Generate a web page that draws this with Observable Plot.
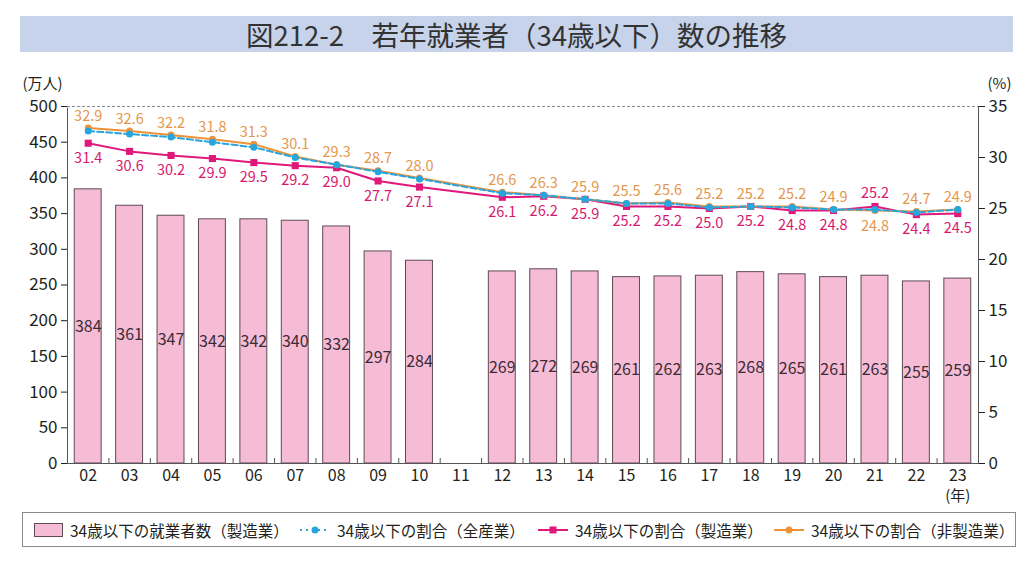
<!DOCTYPE html>
<html>
<head>
<meta charset="utf-8">
<script src="https://cdn.jsdelivr.net/npm/d3@7"></script>
<script src="https://cdn.jsdelivr.net/npm/@observablehq/plot@0.6"></script>
<style>
  html, body { margin: 0; padding: 0; background: #fff; }
  body { width: 1024px; height: 564px; position: relative; overflow: hidden;
         font-family: "Noto Sans CJK JP", "Noto Sans", sans-serif; color: #231f20; }
  #title { position: absolute; left: 20px; top: 16px; width: 993px; height: 36px;
           background: #c7d3ea; text-align: center; font-size: 27.5px; line-height: 36px; color: #333; }
  #chart { position: absolute; left: 0; top: 60px; }
  #legend { position: absolute; left: 22px; top: 512px; width: 994px; height: 35px;
            border: 1px solid #8a8a8a; box-sizing: border-box; font-size: 15.5px; color: #231f20; }
  .item { position: absolute; top: 0; height: 33px; display: flex; align-items: center; white-space: nowrap; }
  .item svg { margin-right: 6px; }
</style>
</head>
<body>
<div id="title">図212-2　若年就業者（34歳以下）数の推移</div>
<div id="chart"></div>
<div id="legend"></div>
<script>
// ---- data ----
const years = ["02","03","04","05","06","07","08","09","10","11","12","13","14","15","16","17","18","19","20","21","22","23"];
const workers = [384,361,347,342,342,340,332,297,284,null,269,272,269,261,262,263,268,265,261,263,255,259];
const shareAll = [32.6,32.3,32.0,31.5,31.0,30.0,29.3,28.6,27.9,null,26.5,26.3,25.9,25.5,25.5,25.1,25.2,25.1,24.9,24.9,24.6,24.9];
const shareMfg = [31.4,30.6,30.2,29.9,29.5,29.2,29.0,27.7,27.1,null,26.1,26.2,25.9,25.2,25.2,25.0,25.2,24.8,24.8,25.2,24.4,24.5];
const shareNonMfg = [32.9,32.6,32.2,31.8,31.3,30.1,29.3,28.7,28.0,null,26.6,26.3,25.9,25.5,25.6,25.2,25.2,25.2,24.9,24.8,24.7,24.9];
const leftTicks = [0,50,100,150,200,250,300,350,400,450,500];
const rightTicks = [0,5,10,15,20,25,30,35];
const legendLabels = ["34歳以下の就業者数（製造業）","34歳以下の割合（全産業）","34歳以下の割合（製造業）","34歳以下の割合（非製造業）"];

const C = { bar: "#f6bcd5", barStroke: "#5f4a57", all: "#27a6de", mfg: "#e0187a", non: "#ef9239",
            nonText: "#e6964c", mfgText: "#d7186f", ink: "#231f20" };

const rows = years.map((y, i) => ({year: y, workers: workers[i], all: shareAll[i], mfg: shareMfg[i], non: shareNonMfg[i]}));
const barRows = rows.filter(d => d.workers != null);
const lineRows = rows.filter(d => d.mfg != null);

const K = 500 / 35; // percent -> left axis units
const W = 1024, H = 445, ML = 67, MR = 46, MT = 46, MB = 42;
const step = (W - ML - MR) / years.length;

const chart = Plot.plot({
  width: W, height: H,
  marginLeft: ML, marginRight: MR, marginTop: MT, marginBottom: MB,
  style: { fontFamily: "'Noto Sans CJK JP', sans-serif", fontSize: "16px", color: C.ink, background: "white" },
  x: { type: "band", domain: years, paddingInner: 0.35, paddingOuter: 0.175, round: false, label: null },
  y: { domain: [0, 500], label: null },
  marks: [
    Plot.barY(barRows, { x: "year", y: "workers", fill: C.bar, stroke: C.barStroke, strokeWidth: 1 }),
    Plot.text(barRows, { x: "year", y: d => d.workers / 2, text: d => String(d.workers), fill: "#3b2b36", fontSize: 16 }),
    Plot.frame({ stroke: "#555" }),
    Plot.ruleY([500], { stroke: "white", strokeWidth: 2 }),
    Plot.ruleY([500], { stroke: "#8c8c8c", strokeDasharray: "3,2" }),
    Plot.ruleX(years.slice(1), { x: d => d, y1: 0, y2: 7, dx: -step / 2, stroke: "#555" }),
    Plot.axisY({ anchor: "left", ticks: leftTicks, tickSize: 6, tickPadding: 4, fontSize: 17, label: null }),
    Plot.axisY({ anchor: "right", ticks: rightTicks.map(p => p * K), tickFormat: v => String(Math.round(v / K)),
                 tickSize: 6, tickPadding: 4, fontSize: 17, label: null }),
    Plot.axisX({ tickSize: 0, tickPadding: 6, fontSize: 16, label: null }),
    Plot.text(["(年)"], { x: () => "23", y: () => 0, text: d => d, dy: 33, fontSize: 15 }),
    Plot.text(["(万人)"], { frameAnchor: "top-left", text: d => d, dx: -45, dy: -28, fontSize: 15, lineAnchor: "top", textAnchor: "start" }),
    Plot.text(["(%)"], { frameAnchor: "top-right", text: d => d, dx: 33, dy: -28, fontSize: 15, lineAnchor: "top", textAnchor: "end" }),
    // manufacturing share
    Plot.line(lineRows, { x: "year", y: d => d.mfg * K, stroke: C.mfg, strokeWidth: 2 }),
    Plot.dot(lineRows, { x: "year", y: d => d.mfg * K, symbol: "square", r: 4, fill: C.mfg }),
    // non-manufacturing share
    Plot.line(lineRows, { x: "year", y: d => d.non * K, stroke: C.non, strokeWidth: 2 }),
    Plot.dot(lineRows, { x: "year", y: d => d.non * K, r: 3.5, fill: C.non }),
    // all-industry share
    Plot.line(lineRows, { x: "year", y: d => d.all * K, stroke: C.all, strokeWidth: 2, strokeDasharray: "6,3" }),
    Plot.dot(lineRows, { x: "year", y: d => d.all * K, r: 3.5, fill: C.all }),
    // labels
    Plot.text(lineRows.filter(d => d.non >= d.mfg), { x: "year", y: d => d.non * K, text: d => d.non.toFixed(1), dy: -12, fill: C.nonText, fontSize: 14.5 }),
    Plot.text(lineRows.filter(d => d.non < d.mfg), { x: "year", y: d => d.non * K, text: d => d.non.toFixed(1), dy: 16, fill: C.nonText, fontSize: 14.5 }),
    Plot.text(lineRows.filter(d => d.mfg <= d.non), { x: "year", y: d => d.mfg * K, text: d => d.mfg.toFixed(1), dy: 15, fill: C.mfgText, fontSize: 14.5 }),
    Plot.text(lineRows.filter(d => d.mfg > d.non), { x: "year", y: d => d.mfg * K, text: d => d.mfg.toFixed(1), dy: -13, fill: C.mfgText, fontSize: 14.5 })
  ]
});
document.getElementById("chart").appendChild(chart);

// ---- legend ----
const sw = [
  `<svg width="30" height="16"><rect x="0.5" y="1.5" width="28" height="13" fill="${C.bar}" stroke="${C.barStroke}"/></svg>`,
  `<svg width="32" height="16"><line x1="1" y1="8" x2="31" y2="8" stroke="${C.all}" stroke-width="2" stroke-dasharray="2,4"/><circle cx="16" cy="8" r="3.5" fill="${C.all}"/></svg>`,
  `<svg width="32" height="16"><line x1="1" y1="8" x2="31" y2="8" stroke="${C.mfg}" stroke-width="2"/><rect x="12.5" y="4.5" width="7" height="7" fill="${C.mfg}"/></svg>`,
  `<svg width="32" height="16"><line x1="1" y1="8" x2="31" y2="8" stroke="${C.non}" stroke-width="2"/><circle cx="16" cy="8" r="3.5" fill="${C.non}"/></svg>`
];
const itemLeft = [11, 276, 514, 750];
document.getElementById("legend").innerHTML = legendLabels.map((t, i) =>
  `<span class="item" style="left:${itemLeft[i]}px">${sw[i]}<span>${t}</span></span>`).join("");
</script>
</body>
</html>
